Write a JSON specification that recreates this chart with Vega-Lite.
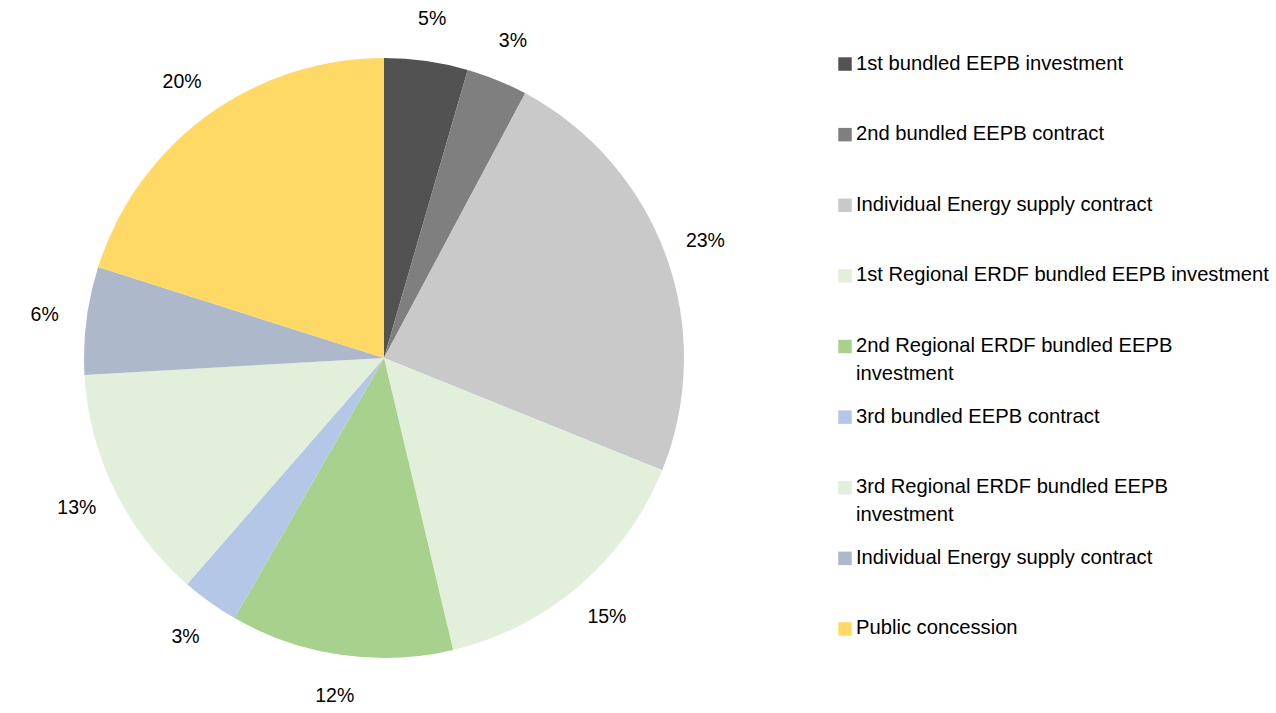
{
  "$schema": "https://vega.github.io/schema/vega-lite/v6.json",
  "padding": {"left": 0, "top": 2, "right": 0, "bottom": 0},
  "background": "white",
  "config": {"view": {"stroke": null}, "font": "Liberation Sans"},
  "spacing": 70,
  "datasets": {
    "slices": [
      {"id": 1, "value": 4.5, "label": "5%", "line1": "1st bundled EEPB investment", "line2": ""},
      {"id": 2, "value": 3.3, "label": "3%", "line1": "2nd bundled EEPB contract", "line2": ""},
      {"id": 3, "value": 23.3, "label": "23%", "line1": "Individual Energy supply contract", "line2": ""},
      {"id": 4, "value": 15.2, "label": "15%", "line1": "1st Regional ERDF bundled EEPB investment", "line2": ""},
      {"id": 5, "value": 12.0, "label": "12%", "line1": "2nd Regional ERDF bundled EEPB", "line2": "investment"},
      {"id": 6, "value": 3.1, "label": "3%", "line1": "3rd bundled EEPB contract", "line2": ""},
      {"id": 7, "value": 12.7, "label": "13%", "line1": "3rd Regional ERDF bundled EEPB", "line2": "investment"},
      {"id": 8, "value": 5.8, "label": "6%", "line1": "Individual Energy supply contract", "line2": ""},
      {"id": 9, "value": 20.1, "label": "20%", "line1": "Public concession", "line2": ""}
    ]
  },
  "hconcat": [
    {
      "width": 768,
      "height": 712,
      "data": {"name": "slices"},
      "layer": [
        {
          "mark": {"type": "arc", "outerRadius": 300},
          "encoding": {
            "theta": {"field": "value", "type": "quantitative", "stack": true},
            "order": {"field": "id", "type": "quantitative", "sort": "ascending"},
            "color": {
              "field": "id",
              "type": "nominal",
              "scale": {
                "domain": [1, 2, 3, 4, 5, 6, 7, 8, 9],
                "range": ["#525252", "#7f7f7f", "#c9c9c9", "#e2efda", "#a9d18e", "#b4c7e7", "#e2efda", "#adb9ca", "#ffd966"]
              },
              "legend": null
            }
          }
        },
        {
          "mark": {"type": "text", "radius": 342, "fontSize": 19.5, "color": "#000000"},
          "encoding": {
            "theta": {"field": "value", "type": "quantitative", "stack": true},
            "order": {"field": "id", "type": "quantitative", "sort": "ascending"},
            "text": {"field": "label", "type": "nominal"}
          }
        }
      ]
    },
    {
      "width": 12,
      "height": 685,
      "data": {"name": "slices"},
      "encoding": {
        "y": {"field": "id", "type": "ordinal", "scale": {"type": "point", "padding": 0.85}, "axis": null}
      },
      "layer": [
        {
          "mark": {"type": "square", "size": 182, "filled": true, "opacity": 1, "yOffset": 2},
          "encoding": {
            "color": {
              "field": "id",
              "type": "nominal",
              "scale": {
                "domain": [1, 2, 3, 4, 5, 6, 7, 8, 9],
                "range": ["#525252", "#7f7f7f", "#c9c9c9", "#e2efda", "#a9d18e", "#b4c7e7", "#e2efda", "#adb9ca", "#ffd966"]
              },
              "legend": null
            }
          }
        },
        {
          "mark": {"type": "text", "align": "left", "baseline": "middle", "dx": 11, "dy": 1.5, "fontSize": 20.2, "color": "#000000"},
          "encoding": {"text": {"field": "line1", "type": "nominal"}}
        },
        {
          "mark": {"type": "text", "align": "left", "baseline": "middle", "dx": 11, "dy": 29.5, "fontSize": 20.2, "color": "#000000"},
          "encoding": {"text": {"field": "line2", "type": "nominal"}}
        }
      ]
    }
  ]
}
